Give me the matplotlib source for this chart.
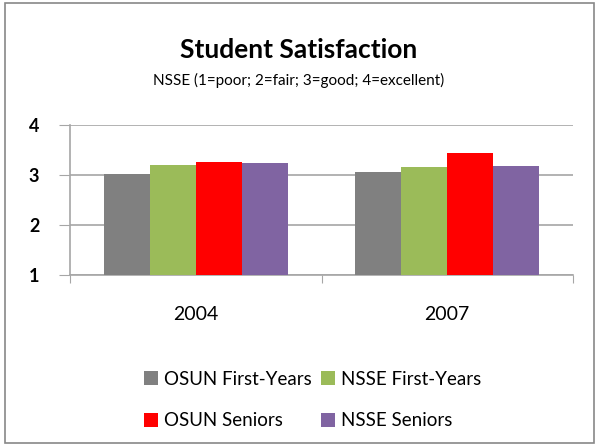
import numpy as np
import matplotlib.pyplot as plt
from matplotlib.patches import Rectangle

years = ['2004', '2007']
series = ['OSUN First-Years', 'NSSE First-Years', 'OSUN Seniors', 'NSSE Seniors']
values = {
    'OSUN First-Years': [3.03, 3.06],
    'NSSE First-Years': [3.21, 3.16],
    'OSUN Seniors': [3.27, 3.45],
    'NSSE Seniors': [3.25, 3.19],
}
colors = ['#808080', '#9BBB59', '#FF0000', '#8064A2']

plt.rcParams['font.family'] = ['Lato', 'DejaVu Sans']

fig = plt.figure(figsize=(5.98, 4.46), dpi=100)
fig.patches.append(Rectangle((5 / 598, 3 / 446), 589 / 598, 440 / 446, transform=fig.transFigure,
                             fill=False, edgecolor='#888888', linewidth=1.2))

ax = fig.add_axes([70 / 598, 1 - 275.3 / 446, 503 / 598, 150 / 446])
x = np.arange(len(years))
w = 0.183
bars = []
for i, (name, c) in enumerate(zip(series, colors)):
    b = ax.bar(x + (i - 1.5) * w, values[name], w, bottom=0, color=c, label=name, zorder=3)
    bars.append(b)

ax.set_ylim(1, 4)
ax.set_xlim(-0.5, 1.5)
ax.set_yticks([1, 2, 3, 4])
ax.yaxis.grid(True, color='#a6a6a6', linewidth=1.2, zorder=0)
ax.tick_params(axis='y', length=8, color='#a6a6a6', labelsize=13, pad=14)
for lab in ax.get_yticklabels():
    lab.set_fontweight('bold')

ax.set_xticks([-0.5, 0.5, 1.5])
ax.set_xticklabels([])
ax.set_xticks(x, minor=True)
ax.set_xticklabels(years, minor=True, fontsize=14)
ax.tick_params(axis='x', which='major', length=6, color='#a6a6a6')
ax.tick_params(axis='x', which='minor', length=0, pad=22)

for s in ['top', 'right']:
    ax.spines[s].set_visible(False)
for s in ['left', 'bottom']:
    ax.spines[s].set_color('#a6a6a6')
    ax.spines[s].set_linewidth(1.2)

fig.text(0.5, 1 - 50 / 446, 'Student Satisfaction', ha='center', va='center',
         fontsize=19, fontweight='bold')
fig.text(0.5, 1 - 80 / 446, 'NSSE (1=poor; 2=fair; 3=good; 4=excellent)', ha='center',
         va='center', fontsize=11)

order = [0, 2, 1, 3]
fig.legend([bars[i] for i in order], [series[i] for i in order], ncol=2,
           loc='upper left', bbox_to_anchor=(127 / 598, 1 - 354 / 446),
           frameon=False, fontsize=13.5, handlelength=0.75, handleheight=0.75,
           handletextpad=0.35, columnspacing=0.45, labelspacing=1.3)

fig.savefig('out.png', dpi=100)
